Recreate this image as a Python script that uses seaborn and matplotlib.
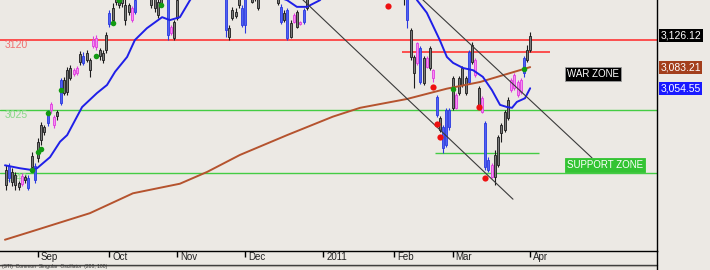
import numpy as np
import matplotlib
matplotlib.use("Agg")
import matplotlib.pyplot as plt
import matplotlib.transforms as mtransforms
from matplotlib.lines import Line2D
import seaborn as sns

sns.set_style("white")
plt.rcParams['font.family'] = ['Liberation Sans', 'DejaVu Sans']

# ---------------- data ----------------
# trading-day index (0 = 1 Sep 2010)
day = list(range(-10, 153))

open_ = [2944, 2933, 2941, 2937, 2926, 2925, 2930, 2933, 2948, 2949,
         2960, 2984, 3002, 3007, 3025, 3016, 3017, 3035, 3048, 3050,
         3069, 3074, 3075, 3090, 3098, 3093, 3093, 3112, 3123, 3098,
         3102, 3106, 3142, 3147, 3172, 3181, 3170, 3168, 3158, 3163,
         3158, 3180, 3195, 3205, 3195, 3181, 3163, 3172, 3170, 3185,
         3178, 3130, 3123, 3150, 3180, 3210, 3245, 3270, 3295, 3290,
         3270, 3260, 3240, 3225, 3210, 3220, 3205, 3190, 3180, 3124,
         3150, 3158, 3168, 3163, 3140, 3181, 3181, 3175, 3181, 3180,
         3195, 3210, 3200, 3190, 3181, 3165, 3147, 3161, 3124, 3144,
         3138, 3142, 3161, 3163, 3181, 3195, 3210, 3220, 3230, 3255,
         3262, 3270, 3260, 3268, 3280, 3272, 3260, 3250, 3258, 3265,
         3255, 3240, 3245, 3235, 3225, 3230, 3215, 3205, 3195, 3200,
         3210, 3200, 3190, 3185, 3181, 3134, 3097, 3089, 3109, 3062,
         3083, 3082, 3079, 3043, 3014, 3002, 2977, 3025, 3028, 3045,
         3048, 3059, 3069, 3063, 3090, 3093, 3055, 3041, 3007, 2957,
         2950, 2934, 2950, 2994, 2998, 3014, 3052, 3073, 3063, 3049,
         3075, 3093, 3106]
high = [2950, 2953, 2946, 2941, 2929, 2940, 2937, 2937, 2968, 2953,
        2987, 3009, 3005, 3025, 3036, 3018, 3025, 3069, 3070, 3083,
        3086, 3082, 3085, 3105, 3104, 3106, 3096, 3125, 3127, 3109,
        3106, 3131, 3161, 3170, 3195, 3191, 3191, 3181, 3170, 3166,
        3181, 3200, 3210, 3215, 3205, 3188, 3185, 3178, 3191, 3200,
        3185, 3140, 3147, 3181, 3215, 3250, 3280, 3300, 3310, 3300,
        3285, 3270, 3255, 3240, 3230, 3235, 3215, 3200, 3186, 3140,
        3165, 3163, 3188, 3168, 3185, 3205, 3188, 3200, 3188, 3200,
        3215, 3225, 3210, 3200, 3188, 3169, 3161, 3163, 3147, 3157,
        3161, 3146, 3163, 3188, 3200, 3215, 3225, 3235, 3260, 3270,
        3280, 3285, 3275, 3290, 3295, 3285, 3270, 3265, 3275, 3280,
        3265, 3255, 3260, 3245, 3240, 3240, 3225, 3215, 3205, 3215,
        3220, 3210, 3200, 3192, 3186, 3136, 3100, 3117, 3112, 3098,
        3098, 3112, 3081, 3045, 3017, 3005, 3028, 3028, 3071, 3048,
        3071, 3085, 3071, 3106, 3117, 3096, 3058, 3044, 3010, 2961,
        2953, 2971, 2991, 3007, 3025, 3043, 3069, 3075, 3066, 3069,
        3098, 3113, 3131]
low = [2917, 2927, 2922, 2917, 2917, 2922, 2926, 2917, 2944, 2926,
       2955, 2978, 2991, 3003, 3021, 3001, 3012, 3032, 3045, 3045,
       3066, 3071, 3072, 3086, 3086, 3090, 3070, 3109, 3106, 3093,
       3089, 3102, 3138, 3144, 3168, 3163, 3165, 3140, 3154, 3144,
       3155, 3176, 3185, 3190, 3182, 3163, 3158, 3150, 3168, 3175,
       3120, 3127, 3120, 3147, 3176, 3205, 3240, 3260, 3280, 3265,
       3250, 3230, 3215, 3200, 3195, 3200, 3185, 3176, 3124, 3120,
       3147, 3150, 3163, 3138, 3130, 3176, 3170, 3173, 3161, 3176,
       3185, 3195, 3180, 3176, 3168, 3142, 3144, 3120, 3123, 3143,
       3136, 3140, 3142, 3161, 3177, 3190, 3200, 3210, 3225, 3240,
       3250, 3255, 3245, 3260, 3265, 3255, 3240, 3235, 3245, 3250,
       3230, 3225, 3230, 3215, 3210, 3205, 3195, 3185, 3180, 3190,
       3195, 3185, 3178, 3168, 3136, 3093, 3055, 3086, 3060, 3059,
       3082, 3079, 3063, 3016, 2995, 2967, 2975, 2998, 3025, 3026,
       3045, 3056, 3045, 3060, 3087, 3070, 3029, 3021, 2944, 2941,
       2933, 2923, 2948, 2982, 2995, 3011, 3050, 3052, 3043, 3047,
       3070, 3090, 3104]
close = [2923, 2949, 2927, 2923, 2920, 2935, 2934, 2919, 2963, 2930,
         2982, 3005, 2995, 3022, 3033, 3005, 3022, 3066, 3066, 3079,
         3082, 3079, 3082, 3101, 3089, 3102, 3079, 3120, 3111, 3106,
         3093, 3127, 3157, 3163, 3188, 3168, 3185, 3147, 3168, 3147,
         3174, 3195, 3205, 3195, 3200, 3168, 3178, 3154, 3185, 3180,
         3127, 3138, 3144, 3174, 3210, 3245, 3270, 3295, 3290, 3270,
         3260, 3240, 3225, 3210, 3220, 3205, 3190, 3182, 3134, 3136,
         3161, 3153, 3181, 3140, 3181, 3200, 3172, 3195, 3163, 3195,
         3210, 3200, 3190, 3180, 3170, 3144, 3157, 3123, 3143, 3154,
         3158, 3144, 3144, 3181, 3195, 3210, 3220, 3230, 3255, 3262,
         3270, 3260, 3268, 3280, 3272, 3260, 3250, 3258, 3265, 3255,
         3240, 3245, 3235, 3225, 3230, 3215, 3205, 3195, 3200, 3210,
         3200, 3190, 3185, 3176, 3147, 3097, 3075, 3116, 3063, 3096,
         3096, 3109, 3069, 3018, 2998, 2973, 3025, 3002, 3069, 3028,
         3069, 3082, 3048, 3104, 3113, 3073, 3032, 3022, 2948, 2944,
         2934, 2964, 2988, 3005, 3022, 3039, 3066, 3055, 3045, 3066,
         3096, 3106, 3126.12]
# candle colour class per day: g = grey, b = blue, m = magenta
candle_class = ("gbgggmgbgb" "gggbmmgbgg" "gmmgbggmmg" "ggbggggggm"
                "bggggggggg" "bmgggggggg" "ggggggggbg" "gggbbggggg"
                "gggggbgbgm" "gmbggggggg" "gggggggggg" "gggggggggg"
                "ggggbggmbg" "mgmbgbbbgm" "gggbgmgmbb" "mgggggmmmm" "bgg")

# moving averages (day index, value)
ma_short_day = [-10.2, -5.6, -2.5, -0.3, 3.7, 6.8, 9.0, 13.6, 18.2, 21.3, 23.8,
                27.5, 29.9, 33.6, 38.3, 40.7, 43.8, 46.9, 52, 58, 64, 70, 76.9,
                79.9, 83, 87, 92, 100, 108, 113, 117, 120, 124, 126.2, 128.1,
                131.2, 134.3, 137.3, 140.1, 142.6, 144.8, 146.3, 147.8, 150.3, 151.9]
ma_short = [2950, 2946, 2944, 2946, 2961, 2982, 2991, 3029, 3048, 3059, 3077,
            3097, 3120, 3136, 3151, 3147, 3151, 3174, 3205, 3220, 3200, 3185, 3174,
            3165, 3165, 3174, 3200, 3240, 3238, 3210, 3174, 3157, 3120, 3097, 3089,
            3082, 3079, 3070, 3052, 3032, 3029, 3028, 3036, 3041, 3054.55]
ma_long_day = [-10.2, -2.5, 16, 29.3, 43.8, 52.2, 62.3, 76.9, 91, 99.4, 113.9,
               126.2, 136.4, 151.9]
ma_long = [2849, 2859.5, 2885, 2912, 2925, 2941, 2964, 2991, 3016, 3028, 3040,
           3054, 3063, 3083.21]

# signal dots
buy_day = [-2, 0, 1, 3, 7, 18, 23, 25, 38, 128, 150]
buy_price = [2944, 2968, 2972, 3021, 3052, 3098, 3143, 3174, 3167, 3054, 3081]
sell_day = [108, 122, 123, 124, 136, 138]
sell_price = [3166, 3056, 3006, 2988, 3029, 2933]

# levels
level_values = [3120, 3025, 2940]
level_labels = ["3120", "3025", "2940"]
short_red_level = 3104
short_green_level = 2967

# trend lines (start day, start value, end day, end value)
trend1 = ([80.2, 146.6], [3181, 2904])
trend2 = ([117.2, 171.0], [3181, 2960])

month_ticks = [0, 22, 43, 64, 88, 110, 128, 152]
month_labels = ["Sep", "Oct", "Nov", "Dec", "2011", "Feb", "Mar", "Apr"]

last_values = [3126.12, 3083.21, 3054.55]

# ---------------- drawing ----------------
BG = '#ECE9E4'
fig = plt.figure(figsize=(7.1, 2.7), dpi=100, facecolor=BG)
ax = fig.add_axes([0, 19 / 270, 657 / 710, 251 / 270], facecolor=BG)

face = {'g': '#7b7b7b', 'b': '#5062f2', 'm': '#f590f0'}
edge = {'g': '#1c1c1c', 'b': '#2a38e0', 'm': '#e03ce0'}

o = np.array(open_, float); c = np.array(close, float)
h = np.array(high, float); l = np.array(low, float)
bottoms = np.minimum(o, c)
heights = np.maximum(np.abs(c - o), 0.9)
faces = [face[k] for k in candle_class]
edges = [edge[k] for k in candle_class]

# levels
ax.axhline(level_values[0], color='#ff3434', lw=1.2, zorder=1)
ax.axhline(level_values[1], color='#44cc44', lw=1.0, zorder=1)
ax.axhline(level_values[2], color='#44cc44', lw=1.0, zorder=1)
ax.hlines(short_red_level, 112.3, 158, color='#ff3434', lw=1.2, zorder=1)
ax.hlines(short_green_level, 122.5, 154.6, color='#44cc44', lw=1.0, zorder=1)
level_cols = ['#f07070', '#8ad88a', '#8ad88a']
for v, lab, col in zip(level_values, level_labels, level_cols):
    ax.text(-10.3, v, lab, va='top', ha='left', fontsize=7.5, color=col, zorder=1.5)

# candles
ax.vlines(day, l, h, colors=edges, linewidth=0.8, zorder=2.9)
ax.bar(day, heights, bottom=bottoms, width=0.62, color=faces, edgecolor=edges,
       linewidth=0.6, zorder=3)

# moving averages
sns.lineplot(x=ma_long_day, y=ma_long, color='#b5532e', lw=1.4, sort=False,
             ax=ax, zorder=4)
sns.lineplot(x=ma_short_day, y=ma_short, color='#1f1fe8', lw=1.4, sort=False,
             ax=ax, zorder=4)

# trend lines
ax.plot(trend1[0], trend1[1], color='#3a3a3a', lw=0.8, zorder=4)
ax.plot(trend2[0], trend2[1], color='#3a3a3a', lw=0.8, zorder=4)

# signals
sns.scatterplot(x=buy_day, y=buy_price, color='#129a12', s=16, linewidth=0,
                ax=ax, zorder=5)
sns.scatterplot(x=sell_day, y=sell_price, color='#ee1010', s=20, linewidth=0,
                ax=ax, zorder=5)

# zone labels
ax.text(163.3, 3073.9, "WAR ZONE", ha='left', va='center', fontsize=7,
        color='white', zorder=6,
        bbox=dict(boxstyle='square,pad=0.2', fc='black', ec='#9a9a9a', lw=0.6))
ax.text(163.3, 2951, "SUPPORT ZONE", ha='left', va='center', fontsize=7,
        color='white', zorder=6,
        bbox=dict(boxstyle='square,pad=0.2', fc='#33c433', ec='#33c433', lw=0.6))

# last value boxes on the right
box_cols = ['black', '#a33f1c', '#1a1aff']
for v, col in zip(last_values, box_cols):
    ax.annotate(f"{v:,.2f}", xy=(1.0, v), xycoords=('axes fraction', 'data'),
                xytext=(2.3, 0), textcoords='offset points', ha='left', va='center',
                fontsize=7.5, color='white', annotation_clip=False,
                bbox=dict(boxstyle='square,pad=0.15', fc=col, ec='none'))

ax.set_xlim(-11.73, 191.05)
ax.set_ylim(2833.7, 3174.3)
ax.set_xlabel('')
ax.set_ylabel('')
ax.set_yticks([])
ax.set_xticks(month_ticks, month_labels)
ax.tick_params(axis='x', direction='out', length=4, width=1, color='black',
               pad=-3.5, labelsize=7, labelcolor='#222222', bottom=True)
offset = mtransforms.ScaledTranslation(3 / 100, 0, fig.dpi_scale_trans)
for lab in ax.get_xticklabels():
    lab.set_ha('left')
    lab.set_transform(lab.get_transform() + offset)

for s in ['top', 'left']:
    ax.spines[s].set_visible(False)
for s in ['bottom', 'right']:
    ax.spines[s].set_visible(True)
    ax.spines[s].set_color('black')
    ax.spines[s].set_linewidth(1)

# lower separator and indicator caption (small, fits in the last strip)
fig.add_artist(Line2D([0, 657 / 710], [1 - 264.5 / 270] * 2, color='#3a3a3a', lw=1))
fig.add_artist(Line2D([0, 657 / 710], [1 - 265.8 / 270] * 2, color='#b0aca6', lw=0.8))
fig.add_artist(Line2D([657 / 710] * 2, [0, 19 / 270], color='black', lw=1))
fig.text(2 / 710, 1.6 / 270, "(STI)  Common  Singular  Oscillator  (200, 100)",
         va='baseline', ha='left', fontsize=3.6, color='#333333')

fig.savefig('out.png', dpi=100, facecolor=BG)
